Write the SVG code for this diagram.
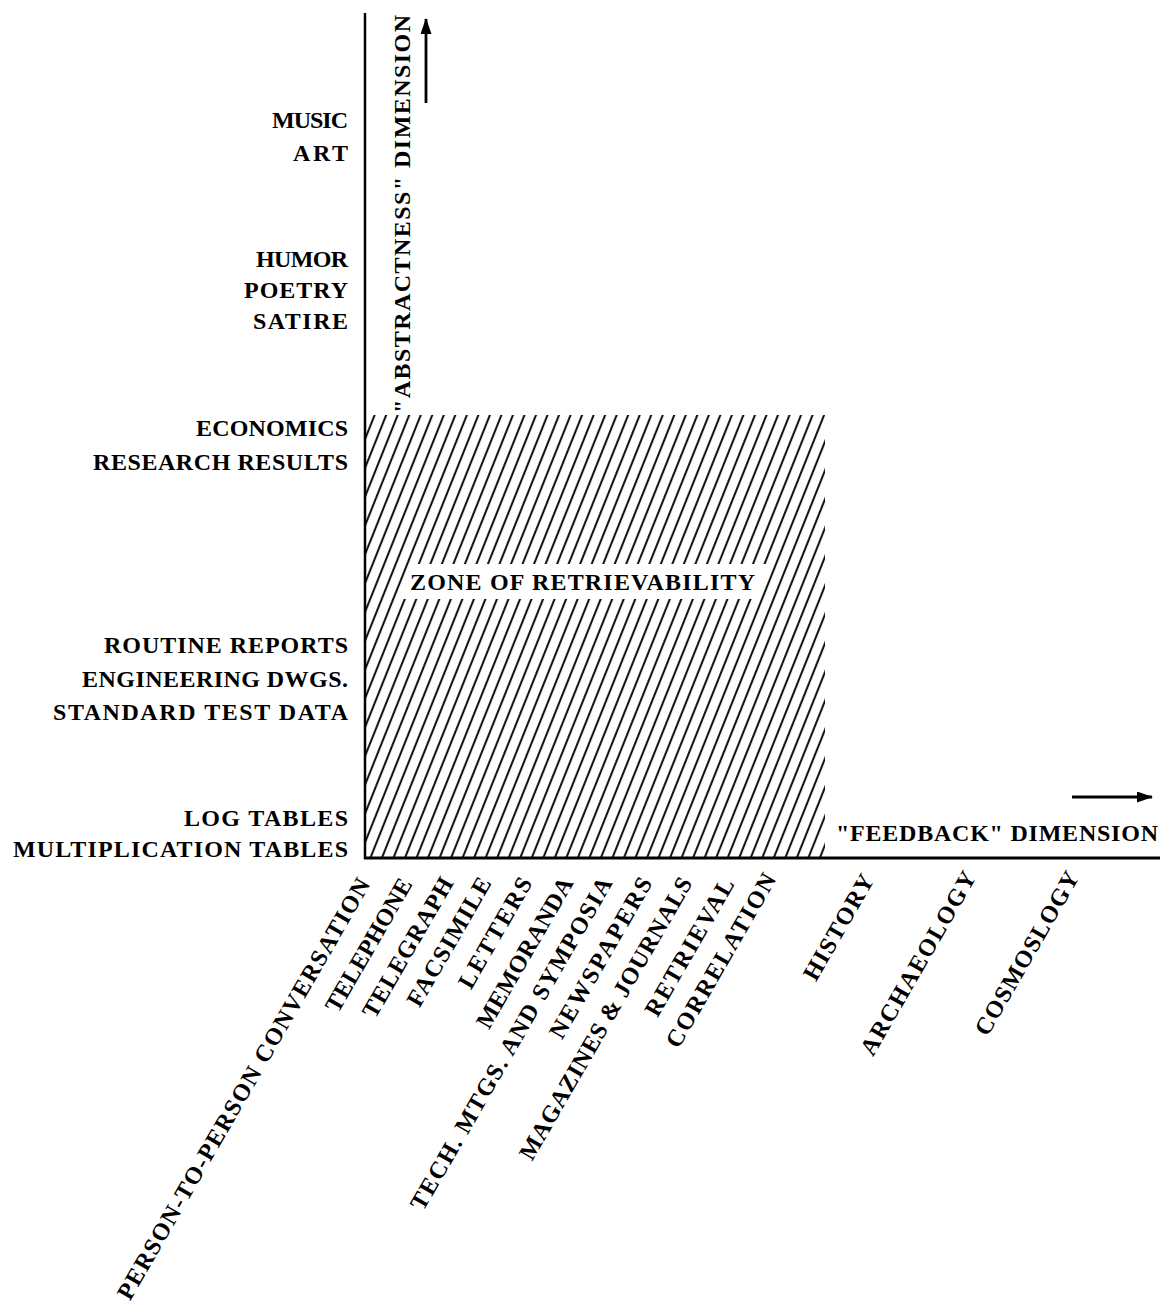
<svg xmlns="http://www.w3.org/2000/svg" width="1160" height="1313" viewBox="0 0 1160 1313">
  <defs>
    <style>
      .lbl { font-family: "Liberation Serif", "Times New Roman", serif; font-size: 24px; font-weight: bold; fill: #000; }
      .axis { stroke: #000; fill: none; }
    </style>
    <pattern id="hatch" patternUnits="userSpaceOnUse" width="10.7" height="20" patternTransform="translate(365,858) rotate(21.8)">
      <line x1="5" y1="0" x2="5" y2="20" stroke="#000" stroke-width="1.9"/>
    </pattern>
    <marker id="arrowhead" viewBox="0 0 16 11" refX="15" refY="5.5" markerWidth="16" markerHeight="11" markerUnits="userSpaceOnUse" orient="auto">
      <path d="M0,0 L16,5.5 L0,11 Z" fill="#000"/>
    </marker>
  </defs>
  <rect width="1160" height="1313" fill="#fff"/>

  <g id="zone">
    <rect x="366" y="415" width="459" height="442" fill="url(#hatch)"/>
    <polygon points="399,599 412,564 770,564 757,599" fill="#fff"/>
    <text class="lbl" x="410" y="590" textLength="345" lengthAdjust="spacing">ZONE OF RETRIEVABILITY</text>
  </g>

  <g id="connectors">
    <line class="axis" x1="365" y1="13" x2="365" y2="859" stroke-width="2.5"/>
    <line class="axis" x1="364" y1="858" x2="1160" y2="858" stroke-width="3"/>
    <line class="axis" x1="426" y1="103" x2="426" y2="19" stroke-width="2.8" marker-end="url(#arrowhead)"/>
    <line class="axis" x1="1072" y1="797" x2="1152" y2="797" stroke-width="2.8" marker-end="url(#arrowhead)"/>
  </g>

  <g id="axis-labels">
    <text class="lbl" transform="translate(410,413) rotate(-90)" x="0" y="0" textLength="398" lengthAdjust="spacing">"ABSTRACTNESS" DIMENSION</text>
    <text class="lbl" x="836" y="841" textLength="322" lengthAdjust="spacing">"FEEDBACK" DIMENSION</text>
  </g>

  <g id="abstractness-levels" text-anchor="end">
    <g id="music-art">
      <text class="lbl" x="348" y="128" textLength="76">MUSIC</text>
      <text class="lbl" x="348" y="161" textLength="55">ART</text>
    </g>
    <g id="humor-poetry-satire">
      <text class="lbl" x="348" y="267" textLength="92">HUMOR</text>
      <text class="lbl" x="348" y="298" textLength="104">POETRY</text>
      <text class="lbl" x="348" y="329" textLength="95">SATIRE</text>
    </g>
    <g id="economics-research">
      <text class="lbl" x="348" y="436" textLength="152">ECONOMICS</text>
      <text class="lbl" x="348" y="470" textLength="255">RESEARCH RESULTS</text>
    </g>
    <g id="routine">
      <text class="lbl" x="348" y="653" textLength="244">ROUTINE REPORTS</text>
      <text class="lbl" x="348" y="687" textLength="266">ENGINEERING DWGS.</text>
      <text class="lbl" x="348" y="720" textLength="295">STANDARD TEST DATA</text>
    </g>
    <g id="tables">
      <text class="lbl" x="348" y="826" textLength="164">LOG TABLES</text>
      <text class="lbl" x="348" y="857" textLength="335">MULTIPLICATION TABLES</text>
    </g>
  </g>

  <g id="feedback-levels" text-anchor="end">
    <g id="person"><text class="lbl" transform="translate(371,884) rotate(-60)" textLength="482">PERSON-TO-PERSON CONVERSATION</text></g>
    <g id="telephone"><text class="lbl" transform="translate(413,884) rotate(-60)" textLength="150">TELEPHONE</text></g>
    <g id="telegraph"><text class="lbl" transform="translate(454,883) rotate(-60)" textLength="158">TELEGRAPH</text></g>
    <g id="facsimile"><text class="lbl" transform="translate(492,883) rotate(-60)" textLength="145">FACSIMILE</text></g>
    <g id="letters"><text class="lbl" transform="translate(533,883) rotate(-60)" textLength="124">LETTERS</text></g>
    <g id="memoranda"><text class="lbl" transform="translate(574,883) rotate(-60)" textLength="170">MEMORANDA</text></g>
    <g id="tech-mtgs"><text class="lbl" transform="translate(613,883) rotate(-60)" textLength="380">TECH. MTGS. AND SYMPOSIA</text></g>
    <g id="newspapers"><text class="lbl" transform="translate(653,883) rotate(-60)" textLength="182">NEWSPAPERS</text></g>
    <g id="magazines"><text class="lbl" transform="translate(693,883) rotate(-60)" textLength="322">MAGAZINES &amp; JOURNALS</text></g>
    <g id="retrieval"><text class="lbl" transform="translate(735,884) rotate(-60)" textLength="155">RETRIEVAL</text></g>
    <g id="correlation"><text class="lbl" transform="translate(777,879) rotate(-60)" textLength="197">CORRELATION</text></g>
    <g id="history"><text class="lbl" transform="translate(875,880) rotate(-60)" textLength="118">HISTORY</text></g>
    <g id="archaeology"><text class="lbl" transform="translate(977,877) rotate(-60)" textLength="208">ARCHAEOLOGY</text></g>
    <g id="cosmoslogy"><text class="lbl" transform="translate(1080,877) rotate(-60)" textLength="185">COSMOSLOGY</text></g>
  </g>
</svg>
